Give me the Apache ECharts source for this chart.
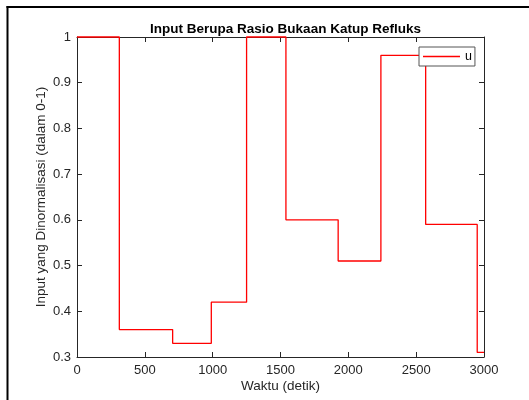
<!DOCTYPE html>
<html>
<head>
<meta charset="utf-8">
<script src="https://cdn.jsdelivr.net/npm/echarts@6/dist/echarts.min.js"></script>
<style>html,body{margin:0;padding:0;background:#fff;}#c{width:529px;height:400px;}</style>
</head>
<body>
<div id="c"></div>
<script>
// Data (step input, end-held)
const times  = [0, 312, 705, 990, 1250, 1540, 1925, 2240, 2570, 2950, 3000];
const values = [1, 0.36, 0.33, 0.42, 1, 0.6, 0.51, 0.96, 0.59, 0.31, 0.31];
const seriesName = 'u';
const titleText = 'Input Berupa Rasio Bukaan Katup Refluks';
const xLabel = 'Waktu (detik)';
const yLabel = 'Input yang Dinormalisasi (dalam 0-1)';

const chart = echarts.init(document.getElementById('c'), null, {renderer: 'canvas'});
const font = 'Liberation Sans, Arial, Helvetica, sans-serif';
const axisColor = '#262626';

const baseAxis = {
  axisLine: {show: true, onZero: false, lineStyle: {color: axisColor, width: 1}},
  axisTick: {show: true, inside: true, length: 5, lineStyle: {color: axisColor}},
  splitLine: {show: false},
};

chart.setOption({
  backgroundColor: '#fff',
  animation: false,
  title: {
    text: titleText, left: 280.5, textAlign: 'center', top: 17,
    textStyle: {fontFamily: font, fontSize: 13.5, fontWeight: 'bold', color: '#000'}
  },
  legend: {
    data: [seriesName], left: 419, top: 47,
    icon: 'rect', itemWidth: 37, itemHeight: 1.5,
    padding: [3, 3, 3, 4], borderColor: '#555', borderWidth: 1,
    backgroundColor: '#fff',
    textStyle: {fontFamily: font, fontSize: 12.5, color: '#000'}
  },
  grid: {left: 77, right: 45, top: 37, bottom: 43, containLabel: false},
  xAxis: [
    Object.assign({}, baseAxis, {
      type: 'value', min: 0, max: 3000, interval: 500, position: 'bottom',
      axisLabel: {fontFamily: font, fontSize: 13, color: axisColor, margin: 7,
        formatter: v => String(v)},
      name: xLabel, nameLocation: 'middle', nameGap: 22.5, nameMoveOverlap: false,
      nameTextStyle: {fontFamily: font, fontSize: 13.5, color: axisColor}
    }),
    Object.assign({}, baseAxis, {
      type: 'value', min: 0, max: 3000, interval: 500, position: 'top',
      axisLabel: {show: false}
    })
  ],
  yAxis: [
    Object.assign({}, baseAxis, {
      type: 'value', min: 0.3, max: 1, interval: 0.1, position: 'left',
      axisLabel: {fontFamily: font, fontSize: 13, color: axisColor, margin: 6,
        formatter: v => String(Math.round(v * 10) / 10)},
      name: yLabel, nameLocation: 'middle', nameGap: 29, nameMoveOverlap: false,
      nameTextStyle: {fontFamily: font, fontSize: 13.5, color: axisColor}
    }),
    Object.assign({}, baseAxis, {
      type: 'value', min: 0.3, max: 1, interval: 0.1, position: 'right',
      axisLabel: {show: false}
    })
  ],
  series: [{
    name: seriesName, type: 'line', step: 'end', clip: false,
    showSymbol: false, symbol: 'none',
    lineStyle: {color: '#ff0000', width: 1.3},
    itemStyle: {color: '#ff0000'},
    data: times.map((t, i) => [t, values[i]])
  }],
  graphic: [
    {type: 'line', shape: {x1: 7.5, y1: 6, x2: 7.5, y2: 400}, style: {stroke: '#000', lineWidth: 2}},
    {type: 'line', shape: {x1: 6.5, y1: 7, x2: 529, y2: 7}, style: {stroke: '#000', lineWidth: 2}}
  ]
});
</script>
</body>
</html>
